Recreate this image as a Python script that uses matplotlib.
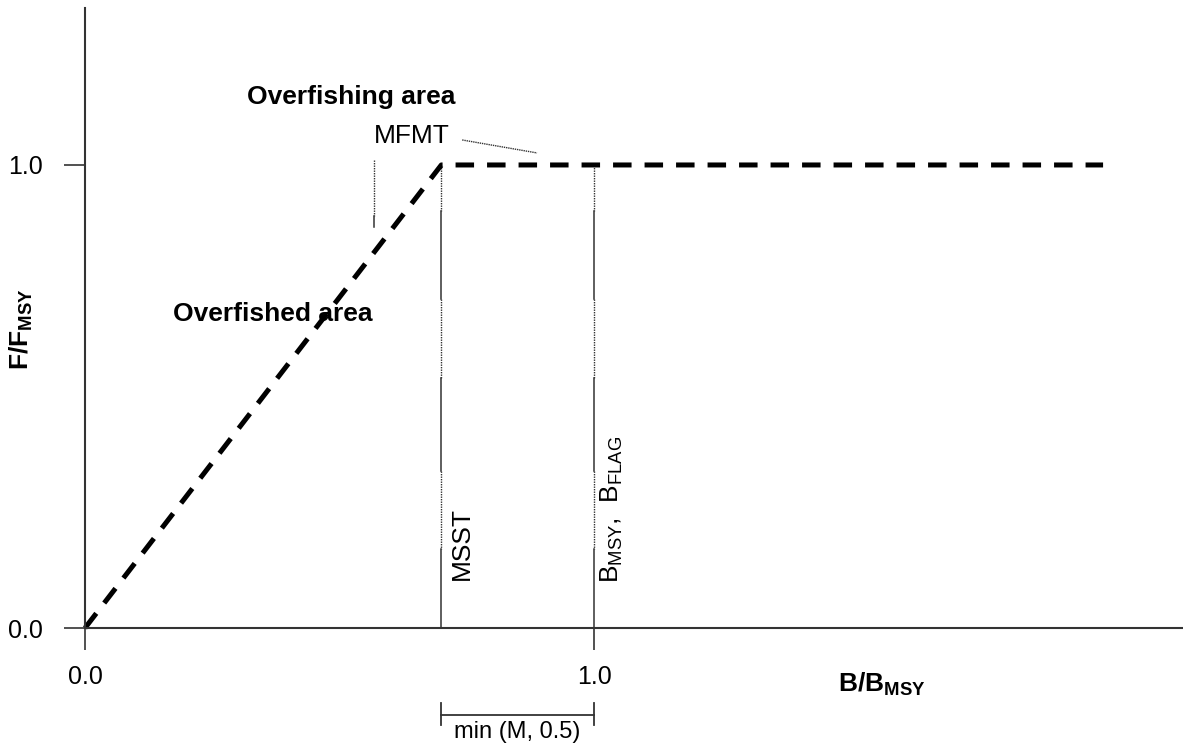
import matplotlib
matplotlib.use("Agg")
import matplotlib.pyplot as plt

plt.rcParams['font.family'] = ['Liberation Sans', 'DejaVu Sans']
plt.rcParams['mathtext.fontset'] = 'custom'
plt.rcParams['mathtext.rm'] = 'Liberation Sans'
plt.rcParams['mathtext.bf'] = 'Liberation Sans:bold'
plt.rcParams['mathtext.it'] = 'Liberation Sans:italic'

# control rule (F/Fmsy against B/Bmsy)
rule_x = [0.0, 0.7, 2.0]
rule_y = [0.0, 1.0, 1.0]

# reference points
msst = 0.7
bmsy = 1.0
mfmt_x = 0.568

# break points of the alternating dotted / solid reference lines
ref_breaks = [1.0, 0.90, 0.71, 0.54, 0.34, 0.17, 0.0]
mfmt_breaks = [1.01, 0.89, 0.866]

xticks = [0.0, 1.0]
xtick_labels = ['0.0', '1.0']
yticks = [0.0, 1.0]
ytick_labels = ['0.0', '1.0']

axis_col = '#333333'

fig = plt.figure(figsize=(11.83, 7.45), dpi=100)
ax = fig.add_axes([85 / 1183, 117 / 745, 1098 / 1183, 620 / 745])
ax.set_xlim(0, 2.157)
ax.set_ylim(0, 1.339)

for s in ['top', 'right']:
    ax.spines[s].set_visible(False)
for s in ['left', 'bottom']:
    ax.spines[s].set_color(axis_col)
    ax.spines[s].set_linewidth(1.5)

ax.set_xticks(xticks)
ax.set_xticklabels(xtick_labels)
ax.set_yticks(yticks)
ax.set_yticklabels(ytick_labels)
ax.tick_params(axis='x', direction='out', length=16, width=1.2, color=axis_col,
               labelsize=18, pad=11)
ax.tick_params(axis='y', direction='out', length=15, width=1.2, color=axis_col,
               labelsize=18, pad=15)

# reference lines, alternating dotted and solid pieces
def broken_vline(x, breaks):
    for i in range(len(breaks) - 1):
        if i % 2 == 0:
            ax.plot([x, x], [breaks[i], breaks[i + 1]], color=axis_col,
                    lw=1.0, ls=(0, (1, 0.8)))
        else:
            ax.plot([x, x], [breaks[i], breaks[i + 1]], color=axis_col,
                    lw=1.1, ls='-')

broken_vline(msst, ref_breaks)
broken_vline(bmsy, ref_breaks)
broken_vline(mfmt_x, mfmt_breaks)

# the control rule
ax.plot(rule_x, rule_y, color='black', lw=3.6, ls=(0, (3.7, 2.6)),
        solid_capstyle='butt', dash_capstyle='butt', clip_on=False)

# MFMT leader line
ax.plot([0.741, 0.888], [1.054, 1.026], color=axis_col, lw=1.0, ls=(0, (1, 0.6)))

ax.text(0.318, 1.147, 'Overfishing area', fontsize=19, fontweight='bold',
        ha='left', va='center')
ax.text(0.568, 1.063, 'MFMT', fontsize=19, ha='left', va='center')
ax.text(0.173, 0.678, 'Overfished area', fontsize=19, fontweight='bold',
        ha='left', va='center')
ax.text(0.741, 0.104, 'MSST', fontsize=19, rotation=90, ha='center', va='bottom')
ax.text(1.035, 0.097, r'B$_{\mathrm{MSY}}$,  B$_{\mathrm{FLAG}}$', fontsize=19,
        rotation=90, ha='center', va='bottom')

# axis titles
ax.text(1.479, -0.138, r'$\mathbf{B/B}_{\mathbf{MSY}}$', fontsize=19,
        ha='left', va='baseline', clip_on=False)
fig.text(21 / 1183, 1 - 329 / 745, r'$\mathbf{F/F}_{\mathbf{MSY}}$', fontsize=19,
         rotation=90, ha='center', va='center')

# min(M, 0.5) bracket below the axis
yb = -0.188
ax.plot([msst, bmsy], [yb, yb], color=axis_col, lw=1.3, clip_on=False)
for xb in [msst, bmsy]:
    ax.plot([xb, xb], [yb - 0.022, yb + 0.025], color=axis_col, lw=1.3, clip_on=False)
ax.text((msst + bmsy) / 2, yb - 0.012, 'min (M, 0.5)', fontsize=17,
        ha='center', va='top')

fig.savefig('out.png', dpi=100)
